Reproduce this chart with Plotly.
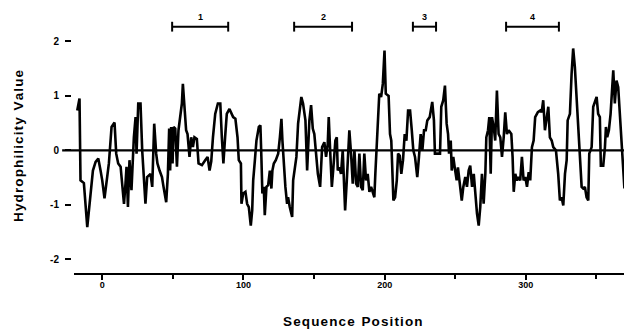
import plotly.graph_objects as go

# Sequence position (residue) and hydrophilicity value
position = [
    -17.7, -16.1, -15.4, -13.0, -10.6, -8.5, -6.6, -4.7, -2.8, -1.2,
    0.0, 1.6, 2.8, 4.7, 6.6, 8.7, 9.9, 11.3, 13.0, 14.2,
    15.4, 16.5, 17.2, 18.2, 19.3, 20.7, 22.4, 23.6, 24.3, 25.5,
    27.1, 28.3, 29.5, 30.6, 31.8, 34.2, 35.4, 36.8, 38.2, 39.1,
    40.6, 42.3, 43.4, 45.3, 46.5, 47.4, 48.1, 48.8, 49.8, 50.5,
    51.7, 52.9, 54.0, 55.2, 56.4, 57.1, 58.2, 59.4, 60.4, 61.8,
    63.0, 64.2, 65.3, 67.0, 68.2, 70.6, 72.9, 74.6, 76.0, 77.2,
    78.4, 80.0, 81.9, 83.6, 84.7, 85.8, 87.0, 88.2, 90.1, 92.7,
    94.3, 95.8, 96.7, 98.2, 98.6, 99.8, 101.4, 102.6, 103.8, 105.2,
    106.2, 106.9, 108.1, 109.2, 110.9, 112.0, 112.7, 113.4, 114.4, 115.1,
    116.3, 117.5, 118.7, 119.8, 120.5, 121.5, 122.9, 124.6, 125.8, 126.9,
    127.6, 128.6, 129.7, 130.9, 131.6, 132.8, 134.5, 135.2, 136.4, 137.5,
    138.7, 139.9, 141.0, 142.2, 143.9, 145.1, 146.7, 147.9, 149.1, 150.2,
    151.4, 152.7, 154.3, 155.7, 157.3, 158.5, 159.7, 160.4, 161.4, 162.6,
    163.7, 165.1, 166.1, 166.8, 167.9, 169.1, 170.3, 172.0, 173.2, 174.3,
    175.0, 176.2, 177.4, 178.6, 179.8, 181.0, 182.1, 183.3, 184.5, 185.6,
    186.8, 188.0, 189.2, 190.4, 191.6, 192.7, 193.4, 194.4, 195.1, 196.2,
    197.5, 198.7, 199.9, 200.8, 202.8, 203.8, 204.7, 205.4, 206.2, 207.4,
    208.6, 209.5, 210.7, 211.8, 213.0, 214.2, 215.4, 216.6, 218.0, 219.2,
    220.3, 221.5, 223.1, 224.3, 225.5, 226.7, 227.9, 229.1, 230.2, 231.9,
    233.7, 234.9, 235.6, 239.2, 240.1, 241.5, 242.7, 243.9, 244.9, 245.6,
    246.8, 247.5, 248.6, 249.6, 251.0, 251.9, 253.4, 254.6, 255.7, 257.1,
    258.3, 259.5, 260.6, 261.9, 263.1, 264.2, 265.4, 266.6, 267.7, 268.9,
    270.1, 271.3, 272.0, 273.2, 274.1, 275.1, 276.0, 277.2, 278.3, 279.5,
    280.7, 281.9, 283.1, 284.3, 285.4, 286.6, 287.8, 289.7, 290.6, 291.4,
    292.5, 293.7, 294.9, 296.0, 297.2, 298.4, 299.6, 300.8, 302.0, 303.1,
    304.3, 305.5, 306.6, 308.5, 310.2, 311.2, 312.3, 313.5, 314.7, 315.9,
    317.0, 318.3, 319.4, 321.3, 322.9, 324.1, 325.3, 326.5, 327.7, 328.9,
    329.6, 331.2, 332.4, 333.5, 334.7, 335.9, 337.1, 338.3, 339.5, 340.6,
    341.8, 343.0, 344.2, 344.9, 346.6, 347.7, 348.9, 350.1, 351.2, 352.4,
    353.1, 354.8, 356.0, 356.7, 357.6, 358.8, 360.0, 360.9, 361.9, 363.0,
    364.2, 365.4, 366.6, 367.8, 368.9, 369.8,
]
hydrophilicity = [
    0.73, 0.95, -0.55, -0.60, -1.41, -0.86, -0.37, -0.21, -0.15, -0.37,
    -0.55, -0.88, -0.60, -0.24, 0.43, 0.51, -0.06, -0.24, -0.30, -0.60,
    -0.98, -0.60, -0.30, -1.04, -0.18, -0.73, 0.24, 0.61, -0.06, 0.86,
    0.86, 0.00, -0.55, -0.98, -0.49, -0.43, -0.67, 0.49, -0.06, -0.24,
    -0.37, -0.49, -0.67, -0.95, -0.43, 0.40, -0.37, 0.43, -0.24, 0.43,
    0.40, -0.30, 0.37, 0.67, 0.86, 1.22, 0.73, 0.37, 0.30, -0.12,
    0.24, 0.06, 0.24, 0.21, -0.24, -0.27, -0.18, -0.12, -0.37, -0.20,
    0.24, 0.67, 0.86, 0.86, 0.24, -0.24, 0.24, 0.67, 0.76, 0.61,
    0.58, 0.24, -0.18, -0.24, -0.98, -0.79, -0.76, -0.98, -1.04, -1.38,
    -1.10, -0.55, -0.18, 0.18, 0.43, 0.46, -0.12, -0.79, -0.67, -1.19,
    -0.67, -0.64, -0.37, -0.70, -0.37, -0.24, -0.18, -0.06, 0.24, 0.58,
    0.18, -0.30, -0.67, -0.98, -0.86, -1.04, -1.22, -0.55, -0.30, -0.12,
    0.49, 0.73, 0.98, 0.86, 0.55, -0.37, 0.55, 0.83, 0.40, 0.30,
    -0.06, -0.43, -0.67, 0.06, 0.15, -0.12, 0.12, 0.61, 0.00, -0.67,
    -0.31, 0.18, 0.24, -0.37, -0.31, -0.43, 0.00, -1.10, -0.55, 0.12,
    0.37, -0.06, -0.61, 0.00, -0.61, -0.67, -0.06, -0.67, -0.73, -0.06,
    -0.55, -0.43, -0.76, -0.67, -0.76, -0.86, -0.43, 0.18, 0.49, 1.04,
    0.98, 1.22, 1.83, 1.04, 1.00, 0.30, 0.18, -0.43, -0.92, -0.86,
    -0.55, -0.06, -0.10, -0.43, -0.18, 0.30, 0.18, 0.73, 0.73, 0.37,
    0.00, -0.12, -0.49, -0.12, 0.30, 0.00, 0.37, 0.37, 0.55, 0.61,
    0.89, 0.55, -0.06, -0.06, 0.80, 0.92, 1.19, 0.49, 0.30, -0.06,
    0.18, -0.37, -0.12, -0.31, -0.55, -0.31, -0.67, -0.92, -0.67, -0.49,
    -0.67, -0.37, -0.28, -0.67, -0.43, -0.86, -1.16, -1.38, -1.04, -0.43,
    -0.98, -0.43, 0.24, 0.37, 0.61, -0.43, 0.61, 0.43, 0.18, 1.10,
    0.30, 0.24, -0.12, 0.24, 0.70, 0.30, 0.37, 0.30, -0.12, -0.76,
    -0.43, -0.55, -0.49, -0.55, -0.12, -0.55, -0.49, -0.67, -0.40, -0.55,
    0.06, 0.18, 0.61, 0.70, 0.73, 0.70, 0.92, 0.37, 0.55, 0.80,
    0.24, 0.18, 0.06, 0.00, -0.43, -0.92, -0.86, -1.01, -0.43, -0.18,
    0.55, 0.67, 1.41, 1.87, 1.53, 0.98, 0.67, 0.00, -0.67, -0.70,
    -0.67, -0.86, -0.92, -0.06, 0.06, 0.80, 0.89, 0.98, 0.67, 0.61,
    -0.28, -0.28, 0.06, 0.43, 0.24, 0.37, 0.67, 1.10, 1.47, 0.86,
    1.28, 1.16, 0.61, 0.00, -0.49, -0.70,
]

# Marked regions (start, end, label)
region_start = [49.5, 135.9, 220.0, 286.0]
region_end = [89.2, 176.9, 236.4, 323.4]
region_labels = ["1", "2", "3", "4"]
region_level = 2.27

x_ticks = [0, 100, 200, 300]
x_minor_ticks = [50, 150, 250, 350]
y_ticks = [-2, -1, 0, 1, 2]
y_tick_labels = ["-2", "-1", "0", "1", "2"]

X_RANGE = [-20, 369.5]
Y_RANGE = [-2.25, 2.576]

FONT = "Liberation Sans"


def spaced(s):
    return "\u200a".join(s).replace("\u200a \u200a", "\u2002")


fig = go.Figure()

fig.add_trace(go.Scatter(
    x=position, y=hydrophilicity, mode="lines",
    line=dict(color="black", width=2.6), showlegend=False, hoverinfo="skip",
))

# region bars with end caps
for s, e in zip(region_start, region_end):
    fig.add_trace(go.Scatter(
        x=[s, e], y=[region_level, region_level], mode="lines+markers",
        line=dict(color="black", width=2),
        marker=dict(symbol="line-ns-open", size=7, line=dict(color="black", width=2)),
        showlegend=False, hoverinfo="skip", cliponaxis=False,
    ))

for s, e, lab in zip(region_start, region_end, region_labels):
    fig.add_annotation(
        x=(s + e) / 2, y=region_level, text=f"<b>{lab}</b>", showarrow=False,
        yanchor="bottom", yshift=3, font=dict(family=FONT, size=9, color="black"),
    )

# zero line (extends slightly left of the x axis start) in paper coords so it is not clipped
zero_frac = (0 - Y_RANGE[0]) / (Y_RANGE[1] - Y_RANGE[0])
fig.add_shape(type="line", xref="paper", yref="paper", x0=-0.016, x1=1,
              y0=zero_frac, y1=zero_frac,
              line=dict(color="black", width=2.4), layer="above")

fig.add_annotation(
    xref="paper", yref="paper", x=0.51, y=-0.186, yanchor="middle", xanchor="center",
    text=f"<b>{spaced('Sequence Position')}</b>",
    showarrow=False, font=dict(family=FONT, size=13.5, color="black"),
)
fig.add_annotation(
    xref="paper", yref="paper", x=-0.095, y=0.485, xanchor="center", yanchor="middle",
    text=f"<b>{spaced('Hydrophilicity Value')}</b>",
    textangle=-90, showarrow=False, font=dict(family=FONT, size=13.5, color="black"),
)

fig.update_layout(
    width=624, height=330,
    margin=dict(l=71, r=0, t=10, b=57),
    paper_bgcolor="white", plot_bgcolor="white",
    font=dict(family=FONT, color="black"),
    xaxis=dict(
        domain=[3 / 553, 1], range=X_RANGE,
        showgrid=False, zeroline=False,
        showline=True, linecolor="black", linewidth=2,
        ticks="outside", ticklen=5, tickwidth=2, tickcolor="black",
        tickvals=x_ticks, ticktext=[f"<b>{v}</b>" for v in x_ticks],
        tickfont=dict(family=FONT, size=9, color="black"),
        ticklabelstandoff=-3,
        minor=dict(tickvals=x_minor_ticks, ticks="outside", ticklen=4,
                   tickwidth=2, tickcolor="black"),
    ),
    yaxis=dict(
        range=Y_RANGE, anchor="free", position=0,
        showgrid=False, zeroline=False, showline=False,
        ticks="outside", ticklen=6, tickwidth=2, tickcolor="black",
        tickvals=y_ticks, ticktext=[f"<b>{t}</b>" for t in y_tick_labels],
        tickfont=dict(family=FONT, size=10, color="black"),
        ticklabelstandoff=4,
    ),
)

fig.write_html(
    "out.html",
    config={"displayModeBar": False},
    post_script="document.body.style.margin='0';document.body.style.overflow='hidden';",
)
